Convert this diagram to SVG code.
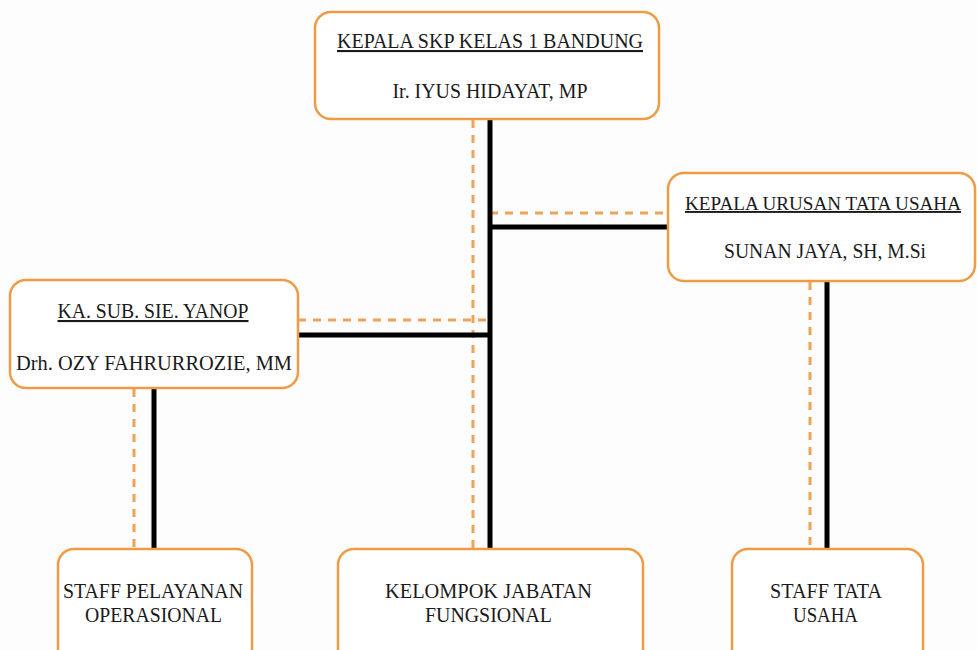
<svg xmlns="http://www.w3.org/2000/svg" width="977" height="650" viewBox="0 0 977 650">
<defs>
<style>
.box{fill:#ffffff;stroke:#EE9B45;stroke-width:2.5}
.t{font-size:21px;fill:#1a1a1a;text-anchor:middle}
.u{text-decoration:underline}
.solid{stroke:#000;stroke-width:5;fill:none}
.dash{stroke:#EDA458;stroke-width:3;stroke-dasharray:8 7;fill:none}
</style>
</defs>
<rect width="977" height="650" fill="#fdfdfd"/>
<g id="connectors">
<line class="dash" x1="473" y1="120" x2="473" y2="549"/>
<line class="dash" x1="490" y1="213" x2="668" y2="213"/>
<line class="dash" x1="298" y1="320" x2="490" y2="320"/>
<line class="dash" x1="134" y1="389" x2="134" y2="549"/>
<line class="dash" x1="810" y1="282" x2="810" y2="549"/>
<line class="solid" x1="490" y1="119" x2="490" y2="549"/>
<line class="solid" x1="488" y1="227" x2="668" y2="227"/>
<line class="solid" x1="298" y1="335" x2="492" y2="335"/>
<line class="solid" x1="154" y1="388" x2="154" y2="549"/>
<line class="solid" x1="827" y1="281" x2="827" y2="549"/>
</g>
<g font-family="Liberation Serif, DejaVu Serif, serif">
<g id="kepala-skp">
<rect class="box" x="315" y="12" width="344" height="107" rx="16"/>
<text class="t u" x="490" y="48" textLength="306" lengthAdjust="spacingAndGlyphs">KEPALA SKP KELAS 1 BANDUNG</text>
<text class="t" x="490" y="98" textLength="195" lengthAdjust="spacingAndGlyphs">Ir. IYUS HIDAYAT, MP</text>
</g>
<g id="kepala-urusan">
<rect class="box" x="668" y="173" width="307" height="108" rx="16"/>
<text class="t u" x="823" y="210" font-size="19" style="font-size:19px" textLength="276" lengthAdjust="spacingAndGlyphs">KEPALA URUSAN TATA USAHA</text>
<text class="t" x="825" y="258" textLength="202" lengthAdjust="spacingAndGlyphs">SUNAN JAYA, SH, M.Si</text>
</g>
<g id="ka-sub-sie">
<rect class="box" x="10" y="280" width="288" height="108" rx="16"/>
<text class="t u" x="153" y="318" textLength="191" lengthAdjust="spacingAndGlyphs">KA. SUB. SIE. YANOP</text>
<text class="t" x="154" y="370" textLength="276" lengthAdjust="spacingAndGlyphs">Drh. OZY FAHRURROZIE, MM</text>
</g>
<g id="staff-pelayanan">
<rect class="box" x="58" y="549" width="194" height="130" rx="16"/>
<text class="t" x="153" y="598" textLength="180" lengthAdjust="spacingAndGlyphs">STAFF PELAYANAN</text>
<text class="t" x="153.5" y="622" textLength="137" lengthAdjust="spacingAndGlyphs">OPERASIONAL</text>
</g>
<g id="kelompok-jabatan">
<rect class="box" x="338" y="549" width="305" height="130" rx="16"/>
<text class="t" x="488.5" y="598" textLength="207" lengthAdjust="spacingAndGlyphs">KELOMPOK JABATAN</text>
<text class="t" x="488.5" y="622" textLength="127" lengthAdjust="spacingAndGlyphs">FUNGSIONAL</text>
</g>
<g id="staff-tata-usaha">
<rect class="box" x="732" y="549" width="191" height="130" rx="16"/>
<text class="t" x="826" y="598" textLength="112" lengthAdjust="spacingAndGlyphs">STAFF TATA</text>
<text class="t" x="825.5" y="622" textLength="65" lengthAdjust="spacingAndGlyphs">USAHA</text>
</g>
</g>
</svg>
